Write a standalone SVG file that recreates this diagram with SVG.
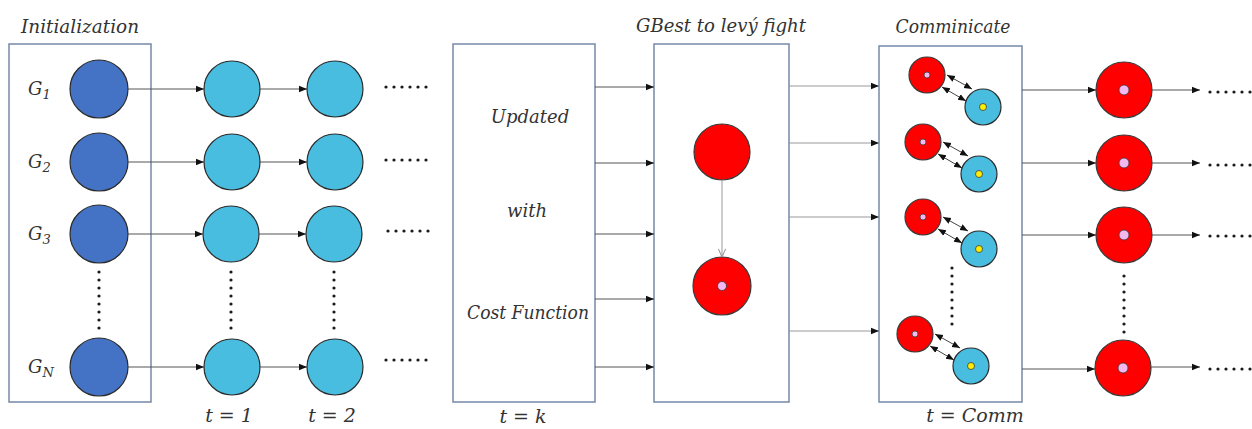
<svg xmlns="http://www.w3.org/2000/svg" width="1252" height="429" viewBox="0 0 1252 429">
  <style>
    .frame { fill: #ffffff; stroke: #7f8fae; stroke-width: 1.6; }
    .init { fill: #4472c4; stroke: #2b2b2b; stroke-width: 1.2; }
    .step { fill: #48bde0; stroke: #2b2b2b; stroke-width: 1.2; }
    .best { fill: #ff0000; stroke: #3a3a3a; stroke-width: 1.2; }
    .core { fill: #f4b8f0; stroke: #3a3a3a; stroke-width: 0.8; }
    .gold { fill: #ffee00; stroke: #3a3a3a; stroke-width: 0.8; }
    .lbl { font-family: "DejaVu Serif", "Liberation Serif", serif; font-style: italic; fill: #333333; }
    .arrow { stroke: #555555; stroke-width: 1; fill: none; marker-end: url(#head); }
    .arrowg { stroke: #999999; stroke-width: 1.2; fill: none; marker-end: url(#head); }
    .duo { stroke: #444444; stroke-width: 1; fill: none; marker-start: url(#headS); marker-end: url(#head); }
    .dot { fill: #1a1a1a; }
  </style>
  <defs>
    <marker id="head" viewBox="0 0 10 10" refX="10" refY="5" markerWidth="8" markerHeight="8" markerUnits="userSpaceOnUse" orient="auto">
      <path d="M0,1 L10,5 L0,9 z" fill="#111111"/>
    </marker>
    <marker id="headS" viewBox="0 0 10 10" refX="0" refY="5" markerWidth="8" markerHeight="8" markerUnits="userSpaceOnUse" orient="auto">
      <path d="M10,1 L0,5 L10,9 z" fill="#111111"/>
    </marker>
    <marker id="openHead" viewBox="0 0 10 10" refX="10" refY="5" markerWidth="9" markerHeight="9" markerUnits="userSpaceOnUse" orient="auto">
      <path d="M1,1 L10,5 L1,9" fill="none" stroke="#999999" stroke-width="1.2"/>
    </marker>
    <!-- six horizontal dots -->
    <g id="hdots">
      <circle class="dot" cx="0" cy="0" r="1.6"/>
      <circle class="dot" cx="8" cy="0" r="1.6"/>
      <circle class="dot" cx="16" cy="0" r="1.6"/>
      <circle class="dot" cx="24" cy="0" r="1.6"/>
      <circle class="dot" cx="32" cy="0" r="1.6"/>
      <circle class="dot" cx="40" cy="0" r="1.6"/>
    </g>
    <!-- eight vertical dots -->
    <g id="vdots">
      <circle class="dot" cx="0" cy="0" r="1.6"/>
      <circle class="dot" cx="0" cy="8" r="1.6"/>
      <circle class="dot" cx="0" cy="16" r="1.6"/>
      <circle class="dot" cx="0" cy="24" r="1.6"/>
      <circle class="dot" cx="0" cy="32" r="1.6"/>
      <circle class="dot" cx="0" cy="40" r="1.6"/>
      <circle class="dot" cx="0" cy="48" r="1.6"/>
      <circle class="dot" cx="0" cy="56" r="1.6"/>
    </g>
    <!-- red/blue communicating pair, origin at red centre -->
    <g id="pair">
      <circle class="best" cx="0" cy="0" r="18"/>
      <circle class="core" cx="0" cy="0" r="3"/>
      <circle class="step" cx="56" cy="32" r="18"/>
      <circle class="gold" cx="56" cy="32" r="3.5"/>
      <line class="duo" x1="20" y1="0" x2="45" y2="14"/>
      <line class="duo" x1="15" y1="12" x2="39" y2="26"/>
    </g>
  </defs>

  <!-- titles -->
  <text class="lbl" x="80" y="33" font-size="18" text-anchor="middle" textLength="118" lengthAdjust="spacingAndGlyphs">Initialization</text>
  <text class="lbl" x="721" y="32" font-size="18" text-anchor="middle" textLength="170" lengthAdjust="spacingAndGlyphs">GBest to lev&#253; fight</text>
  <text class="lbl" x="953" y="33" font-size="18" text-anchor="middle" textLength="115" lengthAdjust="spacingAndGlyphs">Comminicate</text>

  <!-- Initialization stage -->
  <g id="init-stage">
    <rect class="frame" x="9" y="44" width="142" height="358"/>
    <g id="g1"><circle class="init" cx="99" cy="89" r="29"/>
      <text class="lbl" x="28" y="95" font-size="18">G<tspan font-size="13" dy="4">1</tspan></text></g>
    <g id="g2"><circle class="init" cx="99" cy="162" r="29"/>
      <text class="lbl" x="28" y="168" font-size="18">G<tspan font-size="13" dy="4">2</tspan></text></g>
    <g id="g3"><circle class="init" cx="99" cy="234" r="29"/>
      <text class="lbl" x="28" y="240" font-size="18">G<tspan font-size="13" dy="4">3</tspan></text></g>
    <g id="gN"><circle class="init" cx="99" cy="367" r="29"/>
      <text class="lbl" x="28" y="373" font-size="18">G<tspan font-size="13" dy="4">N</tspan></text></g>
    <use href="#vdots" x="99" y="272"/>
  </g>

  <!-- iteration t = 1 -->
  <g id="iter-1">
    <circle class="step" cx="232" cy="89" r="28"/>
    <circle class="step" cx="232" cy="162" r="28"/>
    <circle class="step" cx="231" cy="234" r="28"/>
    <circle class="step" cx="232" cy="367" r="28"/>
    <use href="#vdots" x="231" y="272"/>
    <text class="lbl" x="229" y="422" font-size="19" text-anchor="middle">t = 1</text>
  </g>

  <!-- iteration t = 2 -->
  <g id="iter-2">
    <circle class="step" cx="335" cy="89" r="28"/>
    <circle class="step" cx="335" cy="162" r="28"/>
    <circle class="step" cx="334" cy="234" r="28"/>
    <circle class="step" cx="335" cy="367" r="28"/>
    <use href="#vdots" x="334" y="272"/>
    <text class="lbl" x="332" y="422" font-size="19" text-anchor="middle">t = 2</text>
    <use href="#hdots" x="386" y="87"/>
    <use href="#hdots" x="386" y="160"/>
    <use href="#hdots" x="388" y="231"/>
    <use href="#hdots" x="386" y="360"/>
  </g>

  <!-- update stage -->
  <g id="update-stage">
    <rect class="frame" x="453" y="44" width="142" height="358"/>
    <text class="lbl" x="530" y="123" font-size="18" text-anchor="middle">Updated</text>
    <text class="lbl" x="527" y="217" font-size="18" text-anchor="middle">with</text>
    <text class="lbl" x="528" y="319" font-size="18" text-anchor="middle" textLength="122" lengthAdjust="spacingAndGlyphs">Cost Function</text>
    <text class="lbl" x="523" y="423" font-size="19" text-anchor="middle">t = k</text>
  </g>

  <!-- GBest stage -->
  <g id="gbest-stage">
    <rect class="frame" x="654" y="44" width="135" height="358"/>
    <circle class="best" cx="722" cy="152" r="28"/>
    <circle class="best" cx="722" cy="286" r="29"/>
    <circle class="core" cx="722" cy="286" r="4.5"/>
  </g>

  <!-- communication stage -->
  <g id="comm-stage">
    <rect class="frame" x="879" y="46" width="143" height="356"/>
    <use href="#pair" x="927" y="75"/>
    <use href="#pair" x="923" y="142"/>
    <use href="#pair" x="923" y="217"/>
    <use href="#pair" x="915" y="334"/>
    <use href="#vdots" x="952" y="268"/>
    <text class="lbl" x="975" y="422" font-size="19" text-anchor="middle">t = Comm</text>
  </g>

  <!-- output stage -->
  <g id="output-stage">
    <circle class="best" cx="1124" cy="90" r="28"/>
    <circle class="core" cx="1124" cy="90" r="5"/>
    <circle class="best" cx="1124" cy="163" r="28"/>
    <circle class="core" cx="1124" cy="163" r="5"/>
    <circle class="best" cx="1124" cy="235" r="28"/>
    <circle class="core" cx="1124" cy="235" r="5"/>
    <circle class="best" cx="1123" cy="368" r="28"/>
    <circle class="core" cx="1123" cy="368" r="5"/>
    <use href="#vdots" x="1124" y="276"/>
    <use href="#hdots" x="1210" y="92"/>
    <use href="#hdots" x="1210" y="165"/>
    <use href="#hdots" x="1210" y="236"/>
    <use href="#hdots" x="1210" y="369"/>
  </g>

  <!-- connectors -->
  <g id="connectors">
    <line class="arrow" x1="128" y1="89" x2="204" y2="89"/>
    <line class="arrow" x1="128" y1="162" x2="204" y2="162"/>
    <line class="arrow" x1="128" y1="234" x2="203" y2="234"/>
    <line class="arrow" x1="128" y1="367" x2="204" y2="367"/>

    <line class="arrow" x1="260" y1="89" x2="307" y2="89"/>
    <line class="arrow" x1="260" y1="162" x2="307" y2="162"/>
    <line class="arrow" x1="259" y1="234" x2="306" y2="234"/>
    <line class="arrow" x1="260" y1="367" x2="307" y2="367"/>

    <line class="arrow" x1="595" y1="87" x2="654" y2="87"/>
    <line class="arrow" x1="595" y1="163" x2="654" y2="163"/>
    <line class="arrow" x1="595" y1="234" x2="654" y2="234"/>
    <line class="arrow" x1="595" y1="299" x2="654" y2="299"/>
    <line class="arrow" x1="595" y1="367" x2="654" y2="367"/>

    <line x1="722" y1="180" x2="722" y2="257" stroke="#aaaaaa" stroke-width="1.2" marker-end="url(#openHead)"/>

    <line class="arrowg" x1="789" y1="86" x2="879" y2="86"/>
    <line class="arrowg" x1="789" y1="143" x2="879" y2="143"/>
    <line class="arrowg" x1="789" y1="217" x2="879" y2="217"/>
    <line class="arrowg" x1="789" y1="331" x2="879" y2="331"/>

    <line class="arrow" x1="1022" y1="90" x2="1096" y2="90"/>
    <line class="arrow" x1="1022" y1="163" x2="1096" y2="163"/>
    <line class="arrow" x1="1022" y1="235" x2="1096" y2="235"/>
    <line class="arrow" x1="1022" y1="369" x2="1095" y2="369"/>

    <line class="arrow" x1="1152" y1="90" x2="1200" y2="90"/>
    <line class="arrow" x1="1152" y1="163" x2="1200" y2="163"/>
    <line class="arrow" x1="1152" y1="235" x2="1200" y2="235"/>
    <line class="arrow" x1="1151" y1="367" x2="1200" y2="367"/>
  </g>
</svg>
